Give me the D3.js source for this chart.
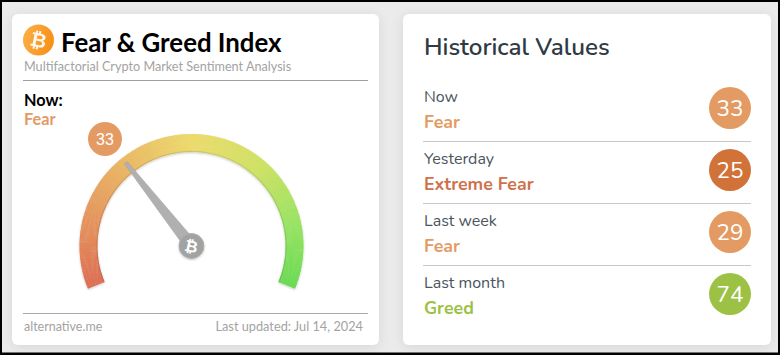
<!DOCTYPE html>
<html><head><meta charset="utf-8">
<script src="https://cdn.jsdelivr.net/npm/d3@7"></script>
<style>html,body{margin:0;padding:0;background:#ebebeb;overflow:hidden}svg{display:block}</style>
</head><body><svg id="c" width="780" height="355"></svg>
<script>
const periods = ["Now","Yesterday","Last week","Last month"];
const classes = ["Fear","Extreme Fear","Fear","Greed"];
const values = [33,25,29,74];
const gaugeDomain = [0,100];
const gaugeStopPositions = [0,0.12,0.3,0.5,0.68,0.85,1];
const gaugeStopColors = ["#dd6e52","#e38b5b","#e9b264","#ecdb6b","#cfe264","#97e362","#69da52"];
const classColors = {"Fear":"#e39b63","Extreme Fear":"#d17239","Greed":"#9dc144"};
const classTextColors = {"Fear":"#e39b63","Extreme Fear":"#d0714a","Greed":"#9dc144"};
const title = "Fear & Greed Index", subtitle = "Multifactorial Crypto Market Sentiment Analysis";
const footerLeft = "alternative.me", footerRight = "Last updated: Jul 14, 2024";
const historyTitle = "Historical Values";

const svg = d3.select("#c");
const defs = svg.append("defs");
const sh = defs.append("filter").attr("id","card").attr("x","-10%").attr("y","-10%").attr("width","120%").attr("height","120%");
sh.append("feDropShadow").attr("dx",0).attr("dy",2).attr("stdDeviation",6).attr("flood-color","#000").attr("flood-opacity",0.09);
const gs = defs.append("filter").attr("id","gsh").attr("x","-10%").attr("y","-10%").attr("width","120%").attr("height","120%");
gs.append("feDropShadow").attr("dx",0).attr("dy",1).attr("stdDeviation",1.2).attr("flood-color","#000").attr("flood-opacity",0.22);
const ig = defs.append("linearGradient").attr("id","btc").attr("x1",0).attr("y1",0).attr("x2",1).attr("y2",0.3);
ig.append("stop").attr("offset",0).attr("stop-color","#fbb04a");
ig.append("stop").attr("offset",1).attr("stop-color","#f7931a");

svg.append("rect").attr("width",780).attr("height",355).attr("fill","#ebebeb");
const card=(x,y,w,h)=>svg.append("rect").attr("x",x).attr("y",y).attr("width",w).attr("height",h).attr("rx",6).attr("fill","#fff").attr("filter","url(#card)");
card(12,14,367,331); card(403,14,368,331);
svg.append("path").attr("fill-rule","evenodd").attr("fill","#000").attr("d","M0 0H780V355H0Z M2 2V352.5H778V2Z");

const txt=(x,y,s,o)=>{const t=svg.append("text").attr("x",x).attr("y",y).text(s);for(const k in o)t.style(k,o[k]);return t;};
const lato="Lato", side="Nunito, 'Noto Sans', sans-serif";
const hr=(x1,x2,y,c)=>svg.append("line").attr("x1",x1).attr("x2",x2).attr("y1",y).attr("y2",y).attr("stroke",c).attr("stroke-width",1);

// header
svg.append("circle").attr("cx",38.5).attr("cy",40).attr("r",15.5).attr("fill","url(#btc)");
txt(38.5,47,"₿",{"font-family":"'DejaVu Sans',sans-serif","font-weight":"bold","font-size":"20px",fill:"#fff","text-anchor":"middle"}).attr("transform","rotate(12 38.5 40)").attr("opacity",.92);
txt(61,52,title,{"font-family":lato,"font-weight":"bold","font-size":"25.8px",fill:"#000"});
txt(24,71,subtitle,{"font-family":lato,"font-size":"12.65px",fill:"#a3a3a3"});
hr(23,368,80.5,"#a0a0a0");
txt(24,105.5,"Now:",{"font-family":lato,"font-weight":"bold","font-size":"16.3px",fill:"#000"});
txt(24,125,classes[0],{"font-family":lato,"font-weight":"bold","font-size":"16.3px",fill:classTextColors[classes[0]]});
hr(23,368,313.5,"#a8a8a8");
txt(24,331,footerLeft,{"font-family":lato,"font-size":"12.5px",fill:"#a3a3a3"});
txt(363,331,footerRight,{"font-family":lato,"font-size":"12.75px",fill:"#a3a3a3","text-anchor":"end"});

// gauge
const cx=191.5, cy=246, R=112, r=94;
const angle=d3.scaleLinear().domain(gaugeDomain).range([-112.5*Math.PI/180,112.5*Math.PI/180]);
const colorAt=d3.scaleLinear().domain(gaugeStopPositions).range(gaugeStopColors).interpolate(d3.interpolateRgb);
const arc=d3.arc().innerRadius(r).outerRadius(R);
const N=d3.range(gaugeDomain[0],gaugeDomain[1],0.25);
const g=svg.append("g").attr("transform",`translate(${cx},${cy})`);
const gaugeG=g.append("g").attr("filter","url(#gsh)");
gaugeG.selectAll("path").data(N).join("path")
  .attr("d",d=>arc({startAngle:angle(d),endAngle:angle(Math.min(d+0.35,gaugeDomain[1]))}))
  .attr("fill",d=>colorAt(d/gaugeDomain[1]));
g.append("path").attr("d",d3.arc().innerRadius(r).outerRadius(r+1.2)({startAngle:angle(gaugeDomain[0]),endAngle:angle(gaugeDomain[1])})).attr("fill","#000").attr("opacity",.1);

// needle
const a=angle(values[0]);
const ux=Math.sin(a), uy=-Math.cos(a), px=-uy, py=ux;
const L=106, tipW=1.8, baseW=6.2;
g.append("path").attr("d",d3.line()([[ux*L+px*tipW,uy*L+py*tipW],[ux*L-px*tipW,uy*L-py*tipW],[-px*baseW,-py*baseW],[px*baseW,py*baseW]])+"Z").attr("fill","#b0b0b0").attr("stroke","#9c9c9c").attr("stroke-width",.5);
g.append("circle").attr("r",12.5).attr("fill","#a2a2a2").attr("stroke","#b0b0b0").attr("stroke-width",1).attr("filter","url(#gsh)");
txt(cx,cy+6,"₿",{"font-family":"'DejaVu Sans',sans-serif","font-weight":"bold","font-size":"16px",fill:"#fff","text-anchor":"middle"}).attr("transform",`rotate(12 ${cx} ${cy})`);

// badge
svg.append("circle").attr("cx",105).attr("cy",139).attr("r",17).attr("fill",classColors[classes[0]]);
txt(105,144.5,values[0],{"font-family":"'Liberation Sans',sans-serif","font-size":"16px",fill:"#fff","text-anchor":"middle"});

// history
txt(424,55,historyTitle,{"font-family":side,"font-weight":"600","font-size":"24.2px",fill:"#2f3b44"});
const y=d3.scalePoint().domain(periods).range([108,294]);
periods.forEach((p,i)=>{
  const c=y(p), cl=classes[i];
  txt(424,c-6,p,{"font-family":side,"font-size":"16px",fill:"#4a5560"});
  txt(424,c+20,cl,{"font-family":side,"font-weight":"bold","font-size":"17.8px",fill:classTextColors[cl]});
  svg.append("circle").attr("cx",730).attr("cy",c).attr("r",21).attr("fill",classColors[cl]);
  txt(730,c+8,values[i],{"font-family":side,"font-size":"22.5px",fill:"#fff","text-anchor":"middle"});
  if(i<periods.length-1) hr(423,751,c+33.5,"#c8c8c8");
});
</script></body></html>
